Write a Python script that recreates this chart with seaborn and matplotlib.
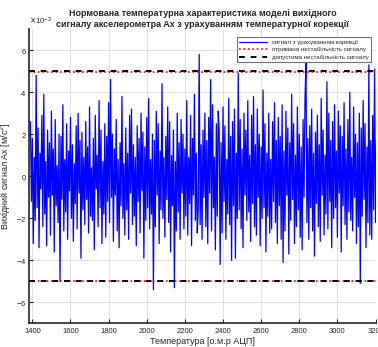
import numpy as np
import pandas as pd
import seaborn as sns
from matplotlib import pyplot as plt
from matplotlib.ticker import ScalarFormatter

# signal values, units of 1e-3 m/s^2
signal = [
    2.6, -1.2, 1.8, -3.2, 0.9, -2.1, 4.8, -1.5, 2.3, -3.4, 1.1, -0.6, 2.9, -2.4, 3.9, -1.8, 0.7, -3.3, 2.2, -1.0,
    1.6, -2.8, 3.1, -0.9, 1.3, -3.6, 2.7, -1.4, 0.5, -2.2, 2.0, -5.0, 1.9, -1.1, 3.4, -2.6, 0.8, -1.7, 2.5, -3.0,
    1.2, -0.7, 2.8, -2.0, 1.5, -3.1, 0.6, -1.3, 2.4, -2.5, 3.0, -0.8, 1.7, -3.9, 2.1, -1.6, 0.9, -2.3, 2.6, -1.1,
    1.4, -2.7, 3.3, -1.9, 0.4, -2.1, 1.8, -3.5, 2.9, -0.6, 1.0, -2.4, 3.6, -1.5, 2.2, -3.2, 0.7, -1.8, 2.5, -2.9,
    1.9, -1.2, 3.5, -2.2, 4.6, -1.0, 2.0, -3.1, 1.3, -0.9, 2.7, -2.6, 0.8, -3.4, 1.6, -1.4, 3.8, -2.0, 0.6, -2.8,
    2.3, -1.6, 1.1, -3.0, 2.9, -0.8, 3.2, -2.3, 1.5, -1.9, 0.9, -3.3, 2.4, -1.2, 1.8, -2.7, 3.0, -0.7, 2.1, -3.9,
    1.4, -2.1, 2.8, -1.5, 3.7, -2.5, 0.8, -1.8, 2.0, -5.4, 1.7, -2.4, 3.1, -0.9, 2.5, -3.2, 1.2, -1.6, 4.4, -2.0,
    0.9, -2.9, 1.9, -1.1, 3.3, -2.2, 2.6, -3.6, 1.0, -1.4, 2.2, -5.3, 0.7, -2.6, 3.0, -1.7, 1.6, -3.0, 2.7, -0.8,
    2.0, -2.5, 1.3, -1.9, 3.6, -2.8, 0.9, -1.3, 2.9, -3.3, 1.8, -0.9, 3.9, -2.1, 1.1, -2.7, -1.6, 5.8, -2.3, 1.5,
    -3.0, 2.2, -1.0, 3.0, -2.4, 1.7, -3.2, 2.8, -0.8, 4.6, -2.6, 3.4, -1.5, 0.9, -3.5, 2.5, -1.9, 3.1, 2.2, -4.2,
    1.6, -2.7, 3.3, -1.2, 2.4, -3.0, 0.8, -1.8, 3.7, -2.3, 1.9, -4.0, 2.6, -1.4, 3.2, -3.9, 1.1, -2.0, 4.9, -1.6,
    2.7, -2.5, 1.3, -3.4, 3.0, -0.9, 2.2, -2.1, 3.6, -1.7, 1.0, -3.1, 2.9, -1.3, 3.8, -2.4, 1.5, -2.8, 3.2, -1.0,
    2.0, -3.3, 1.4, -2.0, 4.1, -1.5, 2.5, -3.6, 1.1, -1.9, 3.0, -2.7, 0.8, -2.5, 2.6, -1.2, 3.5, -2.2, 1.7, -3.2,
    2.8, -1.4, 1.9, -3.0, 3.4, -4.1, 1.2, -2.6, 3.1, -0.9, 2.3, -3.7, 1.6, -2.1, 3.9, -1.1, 2.5, -3.2, 1.0, -2.4,
    3.3, -1.6, 2.0, -2.9, 1.4, -3.5, 2.7, -1.0, 3.6, 5.4, -2.2, 1.8, -3.0, 2.4, -1.5, 3.2, -2.6, 1.1, -3.8, 2.1,
    -1.3, 2.9, -2.4, 1.5, -3.1, 3.7, -0.9, 2.2, -2.8, 1.0, -1.8, 4.5, -2.5, 3.0, -1.2, 1.7, -3.4, 2.6, -2.0, 3.4,
    -1.5, 1.2, -2.9, 3.1, -0.8, 2.4, -3.6, 1.9, -1.4, 3.5, -2.3, 1.3, -3.0, 2.7, -1.7, 4.0, -2.1, 0.9, -2.6, 3.3,
    -1.0, 2.0, -3.2, 1.6, -2.4, 3.0, -5.1, 2.3, -1.9, 3.6, -1.1, 2.5, -3.4, 1.4, -2.2, 5.3, -2.8, 1.7, -3.0, 2.9,
    -1.6, 5.1, -2.2, 1.8,
]
temp_start, temp_end = 1390, 3205
limit_measured = 4.97
limit_allowed = 5.0

labels = ['сигнал з урахуванням корекції',
          'отримана нестабільність сигналу',
          'допустима нестабільність сигналу']
title = ('Нормована температурна характеристика моделі вихідного\n'
         'сигналу акселерометра Ax з урахуванням температурної корекції')

temp = np.linspace(temp_start, temp_end, len(signal))
df = pd.DataFrame({'temp': temp, 'ax': np.array(signal) * 1e-3})

sns.set_style('whitegrid', {'grid.color': '#dcdcdc', 'axes.edgecolor': '#262626'})
plt.rcParams['font.family'] = ['Liberation Sans', 'DejaVu Sans']

fig = plt.figure(figsize=(3.78, 3.47), dpi=100)
ax = fig.add_axes([0.0775, 0.068, 0.9185, 0.848])

sns.lineplot(data=df, x='temp', y='ax', color='#0000ff', linewidth=0.9, ax=ax, label=labels[0])
ax.axhline(limit_measured * 1e-3, color='red', linestyle=':', linewidth=1.2, label=labels[1])
ax.axhline(-limit_measured * 1e-3, color='red', linestyle=':', linewidth=1.2)
ax.axhline(limit_allowed * 1e-3, color='black', linestyle=(0, (3, 3)), linewidth=1.4, label=labels[2])
ax.axhline(-limit_allowed * 1e-3, color='black', linestyle=(0, (3, 3)), linewidth=1.4)

ax.set_xlim(1384, 3205)
ax.set_ylim(-7e-3, 7e-3)
ax.set_xticks(np.arange(1400, 3201, 200))
ax.set_yticks(np.arange(-6e-3, 6.1e-3, 2e-3))
fmt = ScalarFormatter(useMathText=True)
fmt.set_powerlimits((0, 0))
ax.yaxis.set_major_formatter(fmt)
ax.yaxis.get_offset_text().set_fontsize(5.5)
ax.yaxis.get_offset_text().set_color('#262626')

ax.tick_params(direction='in', length=3, width=0.8, labelsize=5.5, colors='#262626', pad=3)
ax.tick_params(axis='y', pad=2)
ax.tick_params(axis='both', which='both', bottom=True, left=True)
for side in ['top', 'right']:
    ax.spines[side].set_visible(False)
for side in ['left', 'bottom']:
    ax.spines[side].set_linewidth(1.2)
ax.grid(True, linewidth=0.6)

ax.set_xlabel('Температура [о.м.р АЦП]', fontsize=6.5, color='#262626', labelpad=2)
ax.set_ylabel('Вихідний сигнал Ax [м/с$^2$]', fontsize=6.5, color='#262626')
ax.yaxis.set_label_coords(-0.046, 0.5)
ax.set_title(title, fontsize=6.5, fontweight='bold', pad=1.5, linespacing=1.35)

leg = ax.legend(loc='upper right', bbox_to_anchor=(0.984, 0.973), fontsize=4.4,
                frameon=True, fancybox=False, edgecolor='#707070', framealpha=1,
                handlelength=4.5, borderaxespad=0, labelspacing=0.35)
leg.get_frame().set_linewidth(0.8)

fig.savefig('out.png', dpi=100)
plt.close(fig)
